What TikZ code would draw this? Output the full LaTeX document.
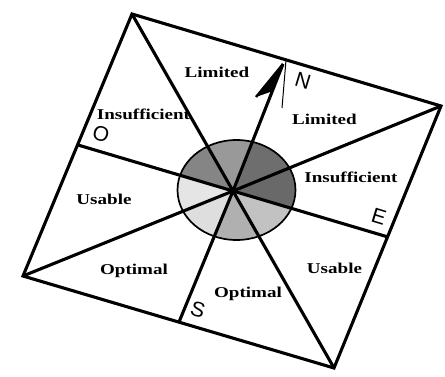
\documentclass[tikz,border=0pt]{standalone}
\usepackage{fontspec}
\setmainfont{Liberation Serif}
\newfontfamily\lettersf{Liberation Sans}
\definecolor{secNW}{gray}{0.52}
\definecolor{secT}{gray}{0.60}
\definecolor{secNE}{gray}{0.43}
\definecolor{secE}{gray}{0.41}
\definecolor{secSE}{gray}{0.76}
\definecolor{secS}{gray}{0.69}
\definecolor{secSW}{gray}{0.87}
\definecolor{secW}{gray}{0.90}
\begin{document}
\begin{tikzpicture}[x=1pt,y=-1pt,
  heavy/.style={line width=3.1pt},
  lab/.style={font=\bfseries\fontsize{15}{15}\selectfont, anchor=base, inner sep=0pt},
  dirlet/.style={font=\lettersf\fontsize{21}{21}\selectfont, rotate=-17, inner sep=0pt}]
\useasboundingbox (0,0) rectangle (445,377);
\coordinate (C) at (233,191);
\coordinate (TL) at (132,14);
\coordinate (N) at (286,60);
\coordinate (R) at (441,106);
\coordinate (E) at (388,237);
\coordinate (B) at (334,368);
\coordinate (S) at (179,322);
\coordinate (L) at (23,276);
\coordinate (O) at (78,145);
\coordinate (tip) at (283,64);
\coordinate (barb) at (256,97);
\coordinate (barbin) at (273,91);
\coordinate (thinend) at (282,108);
\coordinate (EC) at (236.5,190);
% sectors of the disc
\begin{scope}
  \clip (EC) ellipse [x radius=59, y radius=50];
  \fill[secNW] (C) -- (O) -- (TL) -- cycle;
  \fill[secT] (C) -- (TL) -- (N) -- cycle;
  \fill[secNE] (C) -- (N) -- (R) -- cycle;
  \fill[secE] (C) -- (R) -- (E) -- cycle;
  \fill[secSE] (C) -- (E) -- (B) -- cycle;
  \fill[secS] (C) -- (B) -- (S) -- cycle;
  \fill[secSW] (C) -- (S) -- (L) -- cycle;
  \fill[secW] (C) -- (L) -- (O) -- cycle;
\end{scope}
\draw[line width=1.7pt] (EC) ellipse [x radius=59, y radius=50];
% frame
\draw[heavy, line join=miter] (TL) -- (R) -- (B) -- (L) -- cycle;
% rays
\draw[heavy] (C) -- (TL);
\draw[heavy] (C) -- (R);
\draw[heavy] (C) -- (B);
\draw[heavy] (C) -- (L);
\draw[heavy] (C) -- (O);
\draw[heavy] (C) -- (E);
\draw[heavy] (C) -- (S);
\draw[heavy] (C) -- (tip);
% north arrow head
\fill (tip) -- (barb) -- (barbin) -- cycle;
\draw[line width=2.4pt] (tip) -- (barb);
\draw[line width=1pt] (N) -- (thinend);
\fill (C) circle [radius=3.5];
% labels
\node[lab] (l1) at (217,78) {\scalebox{1.27}[1]{Limited}};
\node[lab] (l2) at (143.5,120) {\scalebox{1.27}[1]{Insufficient}};
\node[lab] (l3) at (324.5,125) {\scalebox{1.27}[1]{Limited}};
\node[lab] (l4) at (351,183) {\scalebox{1.27}[1]{Insufficient}};
\node[lab] (l5) at (104,205) {\scalebox{1.27}[1]{Usable}};
\node[lab] (l6) at (134,275) {\scalebox{1.27}[1]{Optimal}};
\node[lab] (l7) at (334.5,273) {\scalebox{1.27}[1]{Usable}};
\node[lab] (l8) at (248,298) {\scalebox{1.27}[1]{Optimal}};
% cardinal letters
\node[dirlet] (dN) at (303,81) {N};
\node[dirlet] (dO) at (101,134) {O};
\node[dirlet] (dE) at (379,217) {E};
\node[dirlet] (dS) at (198,310) {S};
\end{tikzpicture}
\end{document}
